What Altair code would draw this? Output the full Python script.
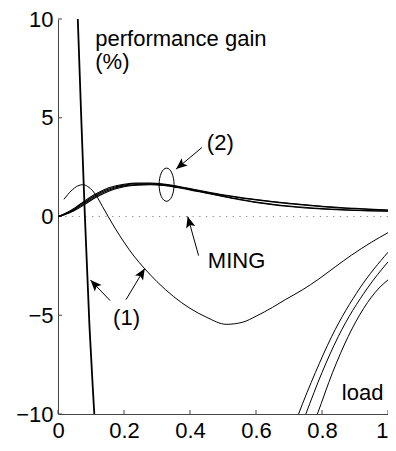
import math
import altair as alt
import pandas as pd

W, H = 330, 395

# ---------------- data ----------------
x_ticks = [0, 0.2, 0.4, 0.6, 0.8, 1.0]
y_ticks = [-10, -5, 0, 5, 10]

# steep curve (1)
steep_x = [0.05, 0.06, 0.07, 0.0815, 0.0955, 0.11, 0.115]
steep_y = [15.0, 10.0, 5.2, 0.0, -5.6, -10.0, -11.5]

# thin oscillating curve (1)
thin_x = [0.018, 0.04, 0.06, 0.075, 0.09, 0.105, 0.12, 0.135, 0.152, 0.175, 0.2, 0.23,
          0.262, 0.3, 0.35, 0.4, 0.45, 0.51, 0.56, 0.6, 0.65, 0.69, 0.74, 0.79, 0.84,
          0.89, 0.95, 1.0]
thin_y = [0.87, 1.3, 1.55, 1.61, 1.52, 1.3, 0.95, 0.5, 0.0, -0.65, -1.3, -2.0,
          -2.63, -3.3, -4.05, -4.65, -5.1, -5.46, -5.35, -5.05, -4.6, -4.2, -3.72, -3.17, -2.55,
          -1.95, -1.3, -0.82]

# band of curves (2) incl. MING
band_x = [0, 0.02, 0.05, 0.08, 0.11, 0.14, 0.17, 0.2, 0.24, 0.28, 0.32, 0.36, 0.4, 0.45,
          0.5, 0.55, 0.6, 0.65, 0.7, 0.8, 0.9, 1.0]
band_a = [0, 0.14, 0.42, 0.78, 1.1, 1.36, 1.53, 1.63, 1.69, 1.69, 1.64, 1.54, 1.41, 1.25,
          1.1, 0.97, 0.86, 0.76, 0.67, 0.52, 0.41, 0.33]
band_b = [0, 0.12, 0.38, 0.72, 1.04, 1.3, 1.48, 1.59, 1.66, 1.66, 1.62, 1.52, 1.39, 1.23,
          1.08, 0.95, 0.84, 0.74, 0.65, 0.5, 0.39, 0.32]
band_c = [0, 0.1, 0.34, 0.66, 0.98, 1.24, 1.43, 1.55, 1.62, 1.63, 1.59, 1.49, 1.37, 1.2,
          1.03, 0.87, 0.73, 0.62, 0.53, 0.4, 0.32, 0.28]
band_d = [0, 0.09, 0.3, 0.6, 0.92, 1.18, 1.38, 1.51, 1.59, 1.61, 1.57, 1.47, 1.35, 1.18,
          1.01, 0.85, 0.71, 0.6, 0.51, 0.38, 0.31, 0.27]

# three curves at the lower right
low_a_x = [0.72, 0.729, 0.78, 0.829, 0.915, 1.0]
low_a_y = [-10.4, -10.0, -7.9, -6.09, -3.62, -1.81]
low_b_x = [0.742, 0.751, 0.80, 0.849, 0.938, 1.0]
low_b_y = [-10.4, -10.0, -7.9, -6.09, -3.62, -2.3]
low_c_x = [0.777, 0.786, 0.832, 0.879, 0.973, 1.0]
low_c_y = [-10.4, -10.0, -7.9, -6.09, -3.62, -3.21]

# annotations
label_text = ["performance gain", "(%)", "(2)", "MING", "(1)", "load"]
label_x = [0.113, 0.113, 0.451, 0.454, 0.167, 0.86]
label_y = [8.62, 7.46, 3.36, -2.63, -5.47, -9.29]

arrow_tail_x = [0.426, 0.436, 0.158, 0.206]
arrow_tail_y = [-1.98, 3.49, -4.26, -4.21]
arrow_tip_x = [0.393, 0.358, 0.0985, 0.263]
arrow_tip_y = [0.0, 2.4, -3.22, -2.63]

ellipse_x = [0.329]
ellipse_y = [1.61]

# ---------------- tables ----------------
def series(xs, ys, name):
    return pd.DataFrame({"x": xs, "y": ys, "s": name})

steep_df = series(steep_x, steep_y, "steep")
thin_df = pd.concat([
    series(thin_x, thin_y, "thin"),
    series(low_a_x, low_a_y, "la"),
    series(low_b_x, low_b_y, "lb"),
    series(low_c_x, low_c_y, "lc"),
])
band_df = pd.concat([
    series(band_x, band_a, "a"),
    series(band_x, band_b, "b"),
    series(band_x, band_c, "c"),
    series(band_x, band_d, "d"),
])

sx = W / 1.0
sy = H / 20.0
angles = []
for tx, ty, px, py in zip(arrow_tail_x, arrow_tail_y, arrow_tip_x, arrow_tip_y):
    dx = (px - tx) * sx
    dy = -(py - ty) * sy
    angles.append(math.degrees(math.atan2(dx, -dy)) % 360)
arrow_df = pd.DataFrame({"x": arrow_tail_x, "y": arrow_tail_y,
                         "x2": arrow_tip_x, "y2": arrow_tip_y})
head_df = pd.DataFrame({"x": arrow_tip_x, "y": arrow_tip_y, "a": angles})
label_df = pd.DataFrame({"x": label_x, "y": label_y, "t": label_text})
ell_df = pd.DataFrame({"x": ellipse_x, "y": ellipse_y})
xt_df = pd.DataFrame({"x": x_ticks})
yt_df = pd.DataFrame({"y": y_ticks})
zero_df = pd.DataFrame({"y": [0]})

FONT = "Liberation Sans"
AXC = "#444"

xscale = alt.Scale(domain=[0, 1], nice=False, zero=False)
yscale = alt.Scale(domain=[-10, 10], nice=False, zero=False)
xaxis = alt.Axis(values=x_ticks, format=".1~f", title="", grid=False, ticks=False,
                 domainColor=AXC, labelFont=FONT, labelFontSize=22, labelColor="black",
                 labelPadding=6, labelFlush=False, labelOverlap=False,
                 labelAlign={"expr": "datum.value == 1 ? 'right' : 'center'"})
yaxis = alt.Axis(values=y_ticks, format="d", title="", grid=False, ticks=False,
                 domainColor=AXC, labelFont=FONT, labelFontSize=22, labelColor="black",
                 labelPadding=5, labelFlush=False, labelOverlap=False)

def X(f="x"):
    return alt.X(f"{f}:Q", scale=xscale, axis=xaxis)

def Y(f="y"):
    return alt.Y(f"{f}:Q", scale=yscale, axis=yaxis)

zero = alt.Chart(zero_df).mark_rule(color="#888", strokeDash=[1.2, 5.5], strokeWidth=1).encode(
    y=Y())

steep = alt.Chart(steep_df).mark_line(color="black", strokeWidth=1.8, clip=True,
                                      interpolate="monotone").encode(x=X(), y=Y(), detail="s:N")
thin = alt.Chart(thin_df).mark_line(color="black", strokeWidth=1, clip=True,
                                    interpolate="monotone").encode(x=X(), y=Y(), detail="s:N")
band = alt.Chart(band_df).mark_line(color="black", strokeWidth=1.1, clip=True,
                                    interpolate="monotone").encode(x=X(), y=Y(), detail="s:N")

shafts = alt.Chart(arrow_df).mark_rule(color="black", strokeWidth=1).encode(
    x=X(), y=Y(), x2="x2:Q", y2="y2:Q")
heads = alt.Chart(head_df).mark_point(
    shape="M0,0 L0.42,1 L0,0.78 L-0.42,1 Z", size=500, filled=True, color="black",
    opacity=1, strokeWidth=0).encode(x=X(), y=Y(), angle=alt.Angle("a:Q", scale=None))
ellipse = alt.Chart(ell_df).mark_point(
    shape="M0,-1 A0.45,1 0 1,1 0,1 A0.45,1 0 1,1 0,-1 Z", size=1100, filled=False,
    color="black", opacity=1, strokeWidth=1).encode(x=X(), y=Y())

labels = alt.Chart(label_df).mark_text(align="left", baseline="alphabetic", font=FONT,
                                       fontSize=22, color="black").encode(
    x=X(), y=Y(), text="t:N")

xticks = alt.Chart(xt_df).mark_rule(color=AXC, strokeWidth=1).encode(
    x=X(), y=alt.value(H), y2=alt.value(H - 4))
yticks = alt.Chart(yt_df).mark_rule(color=AXC, strokeWidth=1).encode(
    y=Y(), x=alt.value(0), x2=alt.value(4))

chart = alt.layer(zero, xticks, yticks, band, thin, steep, shafts, heads, ellipse, labels).properties(
    width=W, height=H,
    autosize=alt.AutoSizeParams(type="none"),
    padding={"left": 50, "top": 11, "right": 0, "bottom": 29},
    background="white",
).configure_view(strokeWidth=0)

chart.save("out.html", embed_options={"renderer": "svg", "actions": False})
